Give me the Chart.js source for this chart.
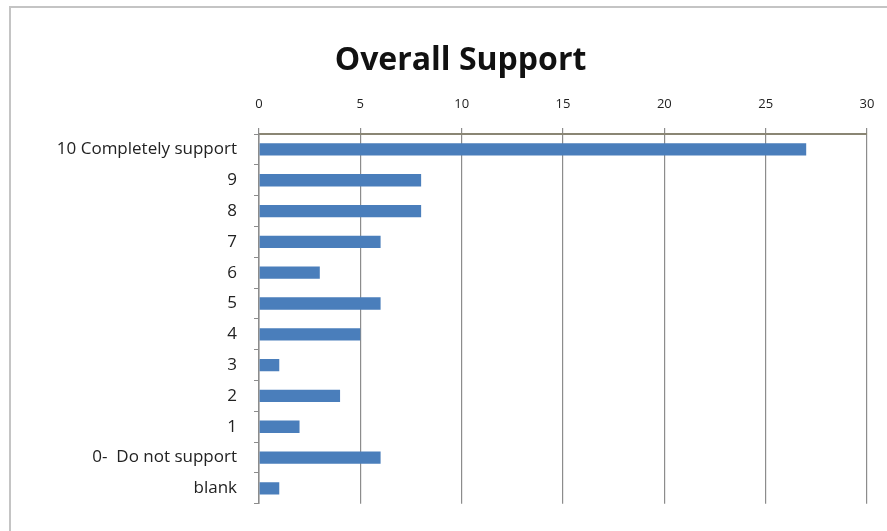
<!DOCTYPE html>
<html>
<head>
<meta charset="utf-8">
<script src="https://cdn.jsdelivr.net/npm/chart.js@4"></script>
<style>
  html, body { margin: 0; padding: 0; background: #fff; }
  #frame {
    position: absolute; left: 9px; top: 6px; width: 890px; height: 540px;
    border: 2px solid #c4c4c4; box-sizing: border-box;
  }
  #wrap { position: absolute; left: 0; top: 0; width: 887px; height: 531px; }
</style>
</head>
<body>
<div id="frame"></div>
<div id="wrap"><canvas id="chart-support"></canvas></div>
<script>
// ─── Дані ────────────────────────────────────────────────────────────────────
const categories = [
  "10 Completely support", "9", "8", "7", "6", "5", "4", "3", "2", "1",
  "0-  Do not support", "blank"
];
const counts = [27, 8, 8, 6, 3, 6, 5, 1, 4, 2, 6, 1];
const xTicks = [0, 5, 10, 15, 20, 25, 30];

const FONT = "'Open Sans', 'Liberation Sans', sans-serif";

new Chart(document.getElementById("chart-support"), {
  type: "bar",
  data: {
    labels: categories,
    datasets: [{
      data: counts,
      backgroundColor: "#4a7ebb",
      barPercentage: 0.4,
      categoryPercentage: 1
    }]
  },
  options: {
    indexAxis: "y",
    responsive: true,
    maintainAspectRatio: false,
    animation: false,
    layout: { padding: { left: 54, right: 20, top: 42, bottom: 18 } },
    plugins: {
      legend: { display: false },
      tooltip: { enabled: false },
      title: {
        display: true,
        text: "Overall Support",
        color: "#111",
        font: { family: FONT, size: 32, weight: "bold" },
        padding: { top: 0, bottom: 0 }
      }
    },
    scales: {
      x: {
        position: "top",
        min: 0,
        max: 30,
        afterBuildTicks: s => { s.ticks = xTicks.map(v => ({ value: v })); },
        afterFit: s => { s.paddingRight = 0; s.paddingLeft = 0; },
        grid: { color: "#8c8c8c", lineWidth: 1.2, tickLength: 6 },
        border: { color: "#8a8674", width: 2 },
        ticks: { color: "#222", font: { family: FONT, size: 13 }, padding: 16 }
      },
      y: {
        afterFit: s => { s.width = 205; },
        grid: { drawOnChartArea: false, color: "#8c8c8c", tickLength: 5, offset: true },
        border: { color: "#8c8c8c", width: 1.5 },
        ticks: { color: "#222", font: { family: FONT, size: 17 }, padding: 17 }
      }
    }
  }
});
</script>
</body>
</html>
